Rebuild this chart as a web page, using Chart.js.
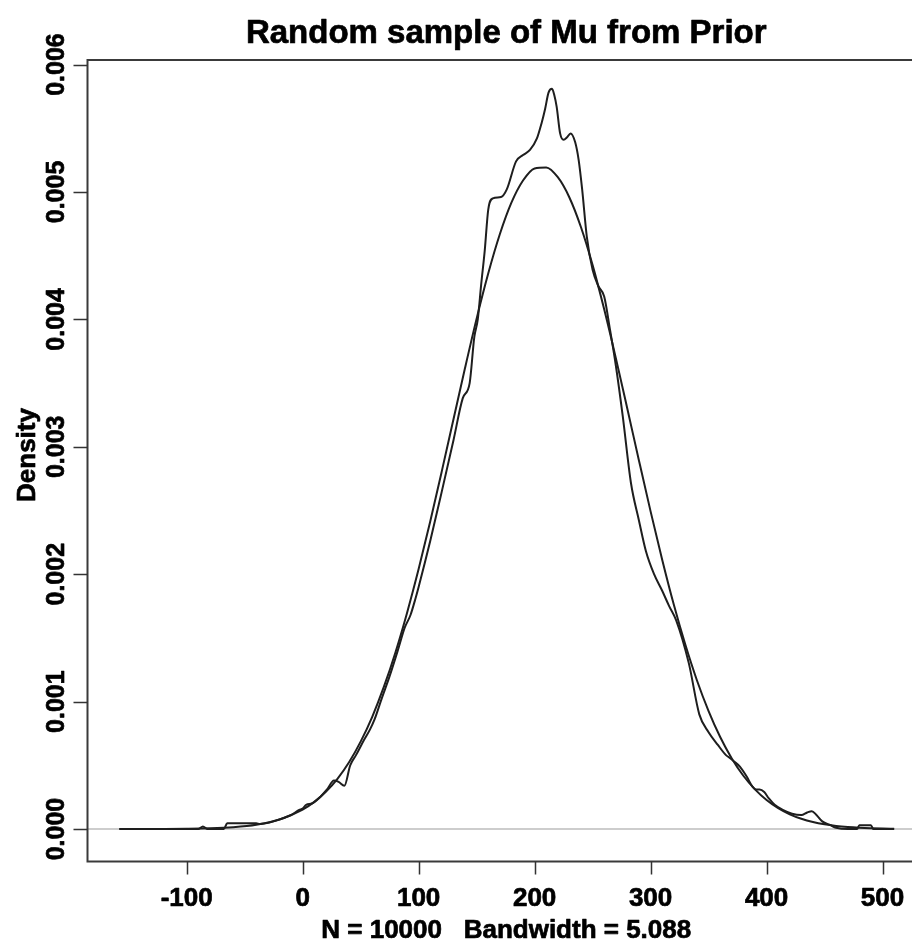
<!DOCTYPE html>
<html>
<head>
<meta charset="utf-8">
<script src="https://cdn.jsdelivr.net/npm/chart.js@4.4.1/dist/chart.umd.min.js"></script>
<style>
  html, body { margin: 0; padding: 0; background: #fff; overflow: hidden; width: 912px; height: 941px; }
  #wrap { position: absolute; left: 0; top: 0; width: 940px; height: 941px; }
</style>
</head>
<body>
<div id="wrap"><canvas id="c" width="940" height="941"></canvas></div>
<script>
// ---- data ----
const chartTitle = "Random sample of Mu from Prior";
const xAxisTitle = "N = 10000   Bandwidth = 5.088";
const yAxisTitle = "Density";

const xTickValues = [-100, 0, 100, 200, 300, 400, 500];
const xTickLabels = ["-100", "0", "100", "200", "300", "400", "500"];
const yTickValues = [0, 0.001, 0.002, 0.003, 0.004, 0.005, 0.006];
const yTickLabels = ["0.000", "0.001", "0.002", "0.003", "0.004", "0.005", "0.006"];

// smooth (prior) density curve
const smoothX = [-158, -140, -120, -100, -80, -60, -40, -20, 0, 10, 20, 30, 40, 50, 60, 70, 80, 90,
  100, 110, 120, 130, 140, 150, 160, 170, 180, 190, 200, 210, 220, 230, 240, 250, 260, 270, 280, 290,
  300, 310, 320, 330, 340, 350, 360, 370, 380, 390, 400, 410, 420, 430, 440, 450, 460, 470, 480, 490, 500, 510];
const smoothY = [0.0000001, 0.0000002, 0.0000007, 0.0000021, 0.0000057, 0.0000144, 0.0000336, 0.0000742,
  0.000152, 0.000213, 0.000292, 0.000394, 0.000524, 0.000686, 0.000881, 0.001115, 0.001386, 0.001696,
  0.00204, 0.002414, 0.002809, 0.003214, 0.003618, 0.004006, 0.00436, 0.004668, 0.004916, 0.00509,
  0.005185, 0.005193, 0.005116, 0.004957, 0.004723, 0.004426, 0.004079, 0.003698, 0.003297, 0.002891,
  0.002493, 0.002114, 0.001762, 0.001446, 0.001166, 0.000926, 0.000722, 0.000554, 0.000418, 0.000311,
  0.000227, 0.000163, 0.000115, 0.00008, 0.0000545, 0.0000366, 0.0000242, 0.0000157, 0.00001, 0.0000063,
  0.0000039, 0.0000024];

// kernel density estimate of the sample
const kdeX = [-158, -90, -86, -82, -68, -65, -52, -40, -37, -25, -10, -3, 0, 3, 8, 15, 21, 27, 31, 36,
  41, 46, 53, 58, 62, 68, 75, 82, 88, 93, 97, 100, 110, 120, 130, 138, 144, 148, 151, 154, 157, 160,
  164, 171, 176, 184, 190, 196, 202, 206, 209, 212, 215, 217, 219, 222, 225, 228, 231, 235, 238, 241,
  245, 250, 255, 260, 265, 270, 276, 283, 290, 296, 303, 310, 316, 322, 333, 342, 350, 358, 365, 368,
  372, 377, 383, 388, 391, 394, 398, 402, 407, 414, 422, 430, 435, 439, 443, 448, 455, 460, 470, 478,
  480, 490, 492, 510];
const kdeY = [0, 0, 0.00002, 0, 0, 0.000045, 0.000045, 0.000045, 0.00004, 0.00006, 0.00011, 0.00015,
  0.00016, 0.00019, 0.0002, 0.00025, 0.00031, 0.00038, 0.00037, 0.00034,
  0.0005, 0.00058, 0.0007, 0.00078, 0.00086, 0.00102, 0.0012, 0.0014, 0.00158, 0.00168, 0.0018,
  0.0019, 0.00226, 0.00265, 0.00305, 0.00338, 0.0035, 0.00386, 0.004, 0.00428, 0.00454, 0.00486,
  0.00495, 0.00496, 0.00502, 0.00524, 0.00529, 0.00533, 0.00542, 0.00554, 0.00565, 0.00578, 0.00581,
  0.00576, 0.00567, 0.00546, 0.00541, 0.00543, 0.00546, 0.00539, 0.00525, 0.00502,
  0.00465, 0.00439, 0.00426, 0.00418, 0.00392, 0.00364, 0.00324, 0.00272, 0.00242, 0.00218, 0.00200,
  0.00187, 0.00175, 0.00164, 0.0013, 0.00090, 0.00076, 0.00066, 0.00058, 0.00056,
  0.00053, 0.00049, 0.00041, 0.00033, 0.00031, 0.00031, 0.00029, 0.00024, 0.00019, 0.00015, 0.00012,
  0.00011, 0.00013, 0.00014, 0.00011, 0.00006, 0.00003, 0.00001, 0, 0,
  0.00003, 0.00003, 0, 0];

// ---- chart ----
const FONT = '"Liberation Sans", Arial, Helvetica, sans-serif';
const toPts = (xs, ys) => xs.map((x, i) => ({ x: x, y: ys[i] }));

function heavyText(ctx, txt, x, y) {
  ctx.strokeText(txt, x, y);
  ctx.fillText(txt, x, y);
}

const rStyle = {
  id: 'rStyle',
  beforeDatasetsDraw(chart) {
    const { ctx, chartArea: a, scales: { y } } = chart;
    const py = y.getPixelForValue(0);
    ctx.save();
    ctx.strokeStyle = '#bdbdbd';
    ctx.lineWidth = 1.5;
    ctx.beginPath();
    ctx.moveTo(a.left, py);
    ctx.lineTo(a.right, py);
    ctx.stroke();
    ctx.restore();
  },
  afterDraw(chart) {
    const { ctx, chartArea: a, scales: { x, y } } = chart;
    ctx.save();
    // frame
    ctx.strokeStyle = '#3a3a3a';
    ctx.lineWidth = 2;
    ctx.strokeRect(a.left, a.top, a.right - a.left, a.bottom - a.top);
    // ticks
    ctx.lineWidth = 1.5;
    ctx.strokeStyle = '#333';
    ctx.beginPath();
    xTickValues.forEach(v => {
      const px = Math.round(x.getPixelForValue(v)) + 0.5;
      ctx.moveTo(px, a.bottom);
      ctx.lineTo(px, a.bottom + 13);
    });
    yTickValues.forEach(v => {
      const py = Math.round(y.getPixelForValue(v)) + 0.5;
      ctx.moveTo(a.left, py);
      ctx.lineTo(a.left - 14, py);
    });
    ctx.stroke();
    // text
    ctx.fillStyle = '#000';
    ctx.strokeStyle = '#000';
    ctx.lineWidth = 0.7;
    ctx.lineJoin = 'round';
    ctx.font = 'bold 26px ' + FONT;
    ctx.textAlign = 'center';
    ctx.textBaseline = 'alphabetic';
    xTickValues.forEach((v, i) => {
      heavyText(ctx, xTickLabels[i], x.getPixelForValue(v), a.bottom + 44);
    });
    heavyText(ctx, xAxisTitle, (a.left + a.right) / 2, 938);
    ctx.font = 'bold 33px ' + FONT;
    heavyText(ctx, chartTitle, (a.left + a.right) / 2, 43);
    ctx.font = 'bold 25px ' + FONT;
    yTickValues.forEach((v, i) => {
      ctx.save();
      ctx.translate(64, y.getPixelForValue(v));
      ctx.rotate(-Math.PI / 2);
      heavyText(ctx, yTickLabels[i], 0, 0);
      ctx.restore();
    });
    ctx.font = 'bold 26px ' + FONT;
    ctx.save();
    ctx.translate(35, 455);
    ctx.rotate(-Math.PI / 2);
    heavyText(ctx, yAxisTitle, 0, 0);
    ctx.restore();
    ctx.restore();
  }
};

new Chart(document.getElementById('c'), {
  type: 'scatter',
  data: {
    datasets: [
      {
        label: 'prior',
        data: toPts(smoothX, smoothY),
        showLine: true,
        borderColor: '#1e1e1e',
        borderWidth: 2,
        pointRadius: 0,
        cubicInterpolationMode: 'monotone',
        fill: false
      },
      {
        label: 'sample',
        data: toPts(kdeX, kdeY),
        showLine: true,
        borderColor: '#1e1e1e',
        borderWidth: 2,
        pointRadius: 0,
        cubicInterpolationMode: 'monotone',
        fill: false
      }
    ]
  },
  options: {
    responsive: false,
    devicePixelRatio: 1,
    animation: false,
    layout: { padding: { left: 87.5, top: 60, right: 15, bottom: 79.5 } },
    plugins: { legend: { display: false }, tooltip: { enabled: false }, title: { display: false } },
    scales: {
      x: { type: 'linear', display: false, min: -185.5, max: 536.6 },
      y: { type: 'linear', display: false, min: -0.000255, max: 0.006036 }
    }
  },
  plugins: [rStyle]
});
</script>
</body>
</html>
